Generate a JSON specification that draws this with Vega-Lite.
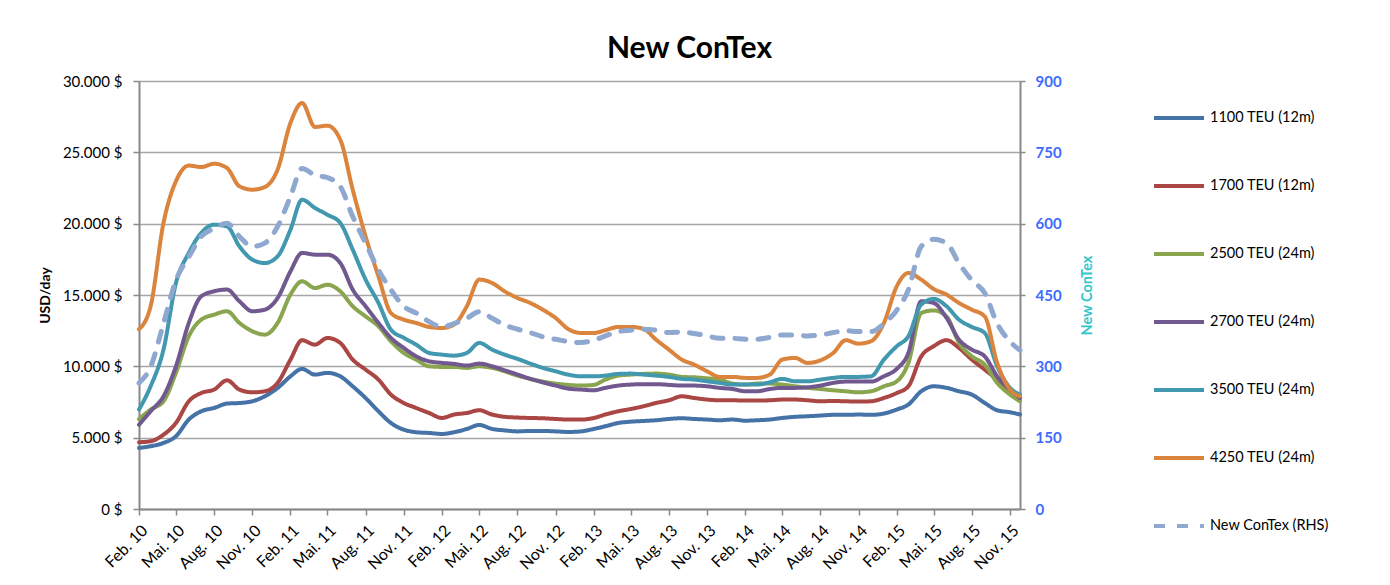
{
"$schema": "https://vega.github.io/schema/vega-lite/v6.json",
"width": 881, "height": 428,
"autosize": {"type": "none"},
"padding": {"left": 139, "top": 81, "right": 370, "bottom": 76},
"background": "white",
"config": {
  "font": "Lato",
  "view": {"stroke": null},
  "axis": {"domainColor": "#888888", "domainWidth": 2, "tickColor": "#888888", "tickWidth": 1.5, "tickSize": 6, "gridColor": "#A6A6A6", "gridWidth": 1.5, "labelFont": "Lato", "labelFontSize": 15, "labelColor": "black", "titleFont": "Lato"},
  "legend": {"symbolType": "stroke", "symbolSize": 2500, "symbolStrokeWidth": 4, "rowPadding": 33, "labelFontSize": 14.5, "labelColor": "black", "labelFont": "Lato", "labelOffset": 4, "labelLimit": 200}
},
"title": {"text": "New ConTex", "fontSize": 30, "fontWeight": "bold", "color": "black", "font": "Lato", "anchor": "middle", "dx": 110, "offset": -14, "baseline": "alphabetic"},
"data": {"values": [
{"d":"2010-02-01","1100 TEU (12m)":4280,"1700 TEU (12m)":4680,"2500 TEU (24m)":6300,"2700 TEU (24m)":5900,"3500 TEU (24m)":6970,"4250 TEU (24m)":12600,"New ConTex (RHS)":265},
{"d":"2010-03-01","1100 TEU (12m)":4400,"1700 TEU (12m)":4750,"2500 TEU (24m)":6970,"2700 TEU (24m)":6850,"3500 TEU (24m)":8600,"4250 TEU (24m)":14210,"New ConTex (RHS)":299},
{"d":"2010-04-01","1100 TEU (12m)":4630,"1700 TEU (12m)":5210,"2500 TEU (24m)":7550,"2700 TEU (24m)":7900,"3500 TEU (24m)":11170,"4250 TEU (24m)":20050,"New ConTex (RHS)":390},
{"d":"2010-05-01","1100 TEU (12m)":5100,"1700 TEU (12m)":6030,"2500 TEU (24m)":9540,"2700 TEU (24m)":10000,"3500 TEU (24m)":15840,"4250 TEU (24m)":22970,"New ConTex (RHS)":481},
{"d":"2010-06-01","1100 TEU (12m)":6270,"1700 TEU (12m)":7550,"2500 TEU (24m)":12110,"2700 TEU (24m)":13040,"3500 TEU (24m)":17950,"4250 TEU (24m)":24070,"New ConTex (RHS)":530},
{"d":"2010-07-01","1100 TEU (12m)":6850,"1700 TEU (12m)":8130,"2500 TEU (24m)":13270,"2700 TEU (24m)":14910,"3500 TEU (24m)":19350,"4250 TEU (24m)":23970,"New ConTex (RHS)":573},
{"d":"2010-08-01","1100 TEU (12m)":7080,"1700 TEU (12m)":8370,"2500 TEU (24m)":13620,"2700 TEU (24m)":15260,"3500 TEU (24m)":19930,"4250 TEU (24m)":24200,"New ConTex (RHS)":590},
{"d":"2010-09-01","1100 TEU (12m)":7390,"1700 TEU (12m)":9020,"2500 TEU (24m)":13860,"2700 TEU (24m)":15380,"3500 TEU (24m)":19810,"4250 TEU (24m)":23900,"New ConTex (RHS)":601},
{"d":"2010-10-01","1100 TEU (12m)":7430,"1700 TEU (12m)":8370,"2500 TEU (24m)":13040,"2700 TEU (24m)":14560,"3500 TEU (24m)":18410,"4250 TEU (24m)":22620,"New ConTex (RHS)":573},
{"d":"2010-11-01","1100 TEU (12m)":7550,"1700 TEU (12m)":8180,"2500 TEU (24m)":12460,"2700 TEU (24m)":13860,"3500 TEU (24m)":17480,"4250 TEU (24m)":22380,"New ConTex (RHS)":552},
{"d":"2010-12-01","1100 TEU (12m)":7900,"1700 TEU (12m)":8250,"2500 TEU (24m)":12220,"2700 TEU (24m)":13970,"3500 TEU (24m)":17240,"4250 TEU (24m)":22570,"New ConTex (RHS)":559},
{"d":"2011-01-01","1100 TEU (12m)":8480,"1700 TEU (12m)":8840,"2500 TEU (24m)":13040,"2700 TEU (24m)":14790,"3500 TEU (24m)":17710,"4250 TEU (24m)":23790,"New ConTex (RHS)":594},
{"d":"2011-02-01","1100 TEU (12m)":9300,"1700 TEU (12m)":10470,"2500 TEU (24m)":15030,"2700 TEU (24m)":16660,"3500 TEU (24m)":19580,"4250 TEU (24m)":27060,"New ConTex (RHS)":657},
{"d":"2011-03-01","1100 TEU (12m)":9820,"1700 TEU (12m)":11830,"2500 TEU (24m)":15960,"2700 TEU (24m)":17950,"3500 TEU (24m)":21680,"4250 TEU (24m)":28460,"New ConTex (RHS)":716},
{"d":"2011-04-01","1100 TEU (12m)":9420,"1700 TEU (12m)":11520,"2500 TEU (24m)":15490,"2700 TEU (24m)":17830,"3500 TEU (24m)":21100,"4250 TEU (24m)":26780,"New ConTex (RHS)":702},
{"d":"2011-05-01","1100 TEU (12m)":9540,"1700 TEU (12m)":11990,"2500 TEU (24m)":15720,"2700 TEU (24m)":17830,"3500 TEU (24m)":20630,"4250 TEU (24m)":26870,"New ConTex (RHS)":697},
{"d":"2011-06-01","1100 TEU (12m)":9300,"1700 TEU (12m)":11640,"2500 TEU (24m)":15260,"2700 TEU (24m)":17240,"3500 TEU (24m)":20050,"4250 TEU (24m)":25890,"New ConTex (RHS)":678},
{"d":"2011-07-01","1100 TEU (12m)":8600,"1700 TEU (12m)":10470,"2500 TEU (24m)":14210,"2700 TEU (24m)":15380,"3500 TEU (24m)":18180,"4250 TEU (24m)":22380,"New ConTex (RHS)":615},
{"d":"2011-08-01","1100 TEU (12m)":7780,"1700 TEU (12m)":9770,"2500 TEU (24m)":13500,"2700 TEU (24m)":14210,"3500 TEU (24m)":16080,"4250 TEU (24m)":19110,"New ConTex (RHS)":559},
{"d":"2011-09-01","1100 TEU (12m)":6850,"1700 TEU (12m)":9070,"2500 TEU (24m)":12810,"2700 TEU (24m)":13040,"3500 TEU (24m)":14450,"4250 TEU (24m)":16310,"New ConTex (RHS)":503},
{"d":"2011-10-01","1100 TEU (12m)":6030,"1700 TEU (12m)":8020,"2500 TEU (24m)":11760,"2700 TEU (24m)":11990,"3500 TEU (24m)":12570,"4250 TEU (24m)":13740,"New ConTex (RHS)":461},
{"d":"2011-11-01","1100 TEU (12m)":5560,"1700 TEU (12m)":7430,"2500 TEU (24m)":10940,"2700 TEU (24m)":11290,"3500 TEU (24m)":12000,"4250 TEU (24m)":13270,"New ConTex (RHS)":426},
{"d":"2011-12-01","1100 TEU (12m)":5380,"1700 TEU (12m)":7080,"2500 TEU (24m)":10470,"2700 TEU (24m)":10700,"3500 TEU (24m)":11520,"4250 TEU (24m)":13040,"New ConTex (RHS)":412},
{"d":"2012-01-01","1100 TEU (12m)":5330,"1700 TEU (12m)":6730,"2500 TEU (24m)":10000,"2700 TEU (24m)":10350,"3500 TEU (24m)":10940,"4250 TEU (24m)":12760,"New ConTex (RHS)":394},
{"d":"2012-02-01","1100 TEU (12m)":5260,"1700 TEU (12m)":6380,"2500 TEU (24m)":9960,"2700 TEU (24m)":10240,"3500 TEU (24m)":10820,"4250 TEU (24m)":12690,"New ConTex (RHS)":383},
{"d":"2012-03-01","1100 TEU (12m)":5380,"1700 TEU (12m)":6620,"2500 TEU (24m)":9960,"2700 TEU (24m)":10170,"3500 TEU (24m)":10750,"4250 TEU (24m)":12920,"New ConTex (RHS)":390},
{"d":"2012-04-01","1100 TEU (12m)":5610,"1700 TEU (12m)":6730,"2500 TEU (24m)":9890,"2700 TEU (24m)":10050,"3500 TEU (24m)":10940,"4250 TEU (24m)":14210,"New ConTex (RHS)":401},
{"d":"2012-05-01","1100 TEU (12m)":5890,"1700 TEU (12m)":6920,"2500 TEU (24m)":10000,"2700 TEU (24m)":10190,"3500 TEU (24m)":11640,"4250 TEU (24m)":16080,"New ConTex (RHS)":415},
{"d":"2012-06-01","1100 TEU (12m)":5610,"1700 TEU (12m)":6620,"2500 TEU (24m)":9890,"2700 TEU (24m)":10000,"3500 TEU (24m)":11170,"4250 TEU (24m)":15840,"New ConTex (RHS)":401},
{"d":"2012-07-01","1100 TEU (12m)":5510,"1700 TEU (12m)":6460,"2500 TEU (24m)":9650,"2700 TEU (24m)":9720,"3500 TEU (24m)":10820,"4250 TEU (24m)":15260,"New ConTex (RHS)":387},
{"d":"2012-08-01","1100 TEU (12m)":5440,"1700 TEU (12m)":6410,"2500 TEU (24m)":9350,"2700 TEU (24m)":9420,"3500 TEU (24m)":10520,"4250 TEU (24m)":14790,"New ConTex (RHS)":378},
{"d":"2012-09-01","1100 TEU (12m)":5470,"1700 TEU (12m)":6380,"2500 TEU (24m)":9120,"2700 TEU (24m)":9120,"3500 TEU (24m)":10190,"4250 TEU (24m)":14440,"New ConTex (RHS)":371},
{"d":"2012-10-01","1100 TEU (12m)":5470,"1700 TEU (12m)":6360,"2500 TEU (24m)":8930,"2700 TEU (24m)":8880,"3500 TEU (24m)":9890,"4250 TEU (24m)":13970,"New ConTex (RHS)":362},
{"d":"2012-11-01","1100 TEU (12m)":5440,"1700 TEU (12m)":6310,"2500 TEU (24m)":8790,"2700 TEU (24m)":8650,"3500 TEU (24m)":9650,"4250 TEU (24m)":13390,"New ConTex (RHS)":357},
{"d":"2012-12-01","1100 TEU (12m)":5400,"1700 TEU (12m)":6270,"2500 TEU (24m)":8700,"2700 TEU (24m)":8440,"3500 TEU (24m)":9420,"4250 TEU (24m)":12620,"New ConTex (RHS)":352},
{"d":"2013-01-01","1100 TEU (12m)":5440,"1700 TEU (12m)":6270,"2500 TEU (24m)":8650,"2700 TEU (24m)":8370,"3500 TEU (24m)":9300,"4250 TEU (24m)":12340,"New ConTex (RHS)":350},
{"d":"2013-02-01","1100 TEU (12m)":5610,"1700 TEU (12m)":6380,"2500 TEU (24m)":8700,"2700 TEU (24m)":8320,"3500 TEU (24m)":9300,"4250 TEU (24m)":12340,"New ConTex (RHS)":355},
{"d":"2013-03-01","1100 TEU (12m)":5800,"1700 TEU (12m)":6620,"2500 TEU (24m)":9070,"2700 TEU (24m)":8490,"3500 TEU (24m)":9350,"4250 TEU (24m)":12530,"New ConTex (RHS)":364},
{"d":"2013-04-01","1100 TEU (12m)":6030,"1700 TEU (12m)":6850,"2500 TEU (24m)":9350,"2700 TEU (24m)":8650,"3500 TEU (24m)":9470,"4250 TEU (24m)":12760,"New ConTex (RHS)":373},
{"d":"2013-05-01","1100 TEU (12m)":6120,"1700 TEU (12m)":7010,"2500 TEU (24m)":9420,"2700 TEU (24m)":8720,"3500 TEU (24m)":9490,"4250 TEU (24m)":12760,"New ConTex (RHS)":376},
{"d":"2013-06-01","1100 TEU (12m)":6170,"1700 TEU (12m)":7200,"2500 TEU (24m)":9470,"2700 TEU (24m)":8750,"3500 TEU (24m)":9420,"4250 TEU (24m)":12620,"New ConTex (RHS)":378},
{"d":"2013-07-01","1100 TEU (12m)":6220,"1700 TEU (12m)":7430,"2500 TEU (24m)":9490,"2700 TEU (24m)":8750,"3500 TEU (24m)":9350,"4250 TEU (24m)":11870,"New ConTex (RHS)":376},
{"d":"2013-08-01","1100 TEU (12m)":6310,"1700 TEU (12m)":7620,"2500 TEU (24m)":9420,"2700 TEU (24m)":8700,"3500 TEU (24m)":9260,"4250 TEU (24m)":11170,"New ConTex (RHS)":371},
{"d":"2013-09-01","1100 TEU (12m)":6360,"1700 TEU (12m)":7900,"2500 TEU (24m)":9260,"2700 TEU (24m)":8650,"3500 TEU (24m)":9120,"4250 TEU (24m)":10470,"New ConTex (RHS)":372},
{"d":"2013-10-01","1100 TEU (12m)":6310,"1700 TEU (12m)":7780,"2500 TEU (24m)":9230,"2700 TEU (24m)":8650,"3500 TEU (24m)":9070,"4250 TEU (24m)":10120,"New ConTex (RHS)":369},
{"d":"2013-11-01","1100 TEU (12m)":6270,"1700 TEU (12m)":7670,"2500 TEU (24m)":9160,"2700 TEU (24m)":8600,"3500 TEU (24m)":8950,"4250 TEU (24m)":9650,"New ConTex (RHS)":364},
{"d":"2013-12-01","1100 TEU (12m)":6220,"1700 TEU (12m)":7620,"2500 TEU (24m)":9070,"2700 TEU (24m)":8490,"3500 TEU (24m)":8840,"4250 TEU (24m)":9260,"New ConTex (RHS)":359},
{"d":"2014-01-01","1100 TEU (12m)":6270,"1700 TEU (12m)":7620,"2500 TEU (24m)":8790,"2700 TEU (24m)":8410,"3500 TEU (24m)":8720,"4250 TEU (24m)":9260,"New ConTex (RHS)":359},
{"d":"2014-02-01","1100 TEU (12m)":6190,"1700 TEU (12m)":7600,"2500 TEU (24m)":8720,"2700 TEU (24m)":8250,"3500 TEU (24m)":8720,"4250 TEU (24m)":9190,"New ConTex (RHS)":357},
{"d":"2014-03-01","1100 TEU (12m)":6220,"1700 TEU (12m)":7600,"2500 TEU (24m)":8790,"2700 TEU (24m)":8250,"3500 TEU (24m)":8720,"4250 TEU (24m)":9190,"New ConTex (RHS)":357},
{"d":"2014-04-01","1100 TEU (12m)":6270,"1700 TEU (12m)":7620,"2500 TEU (24m)":8790,"2700 TEU (24m)":8410,"3500 TEU (24m)":8880,"4250 TEU (24m)":9420,"New ConTex (RHS)":361},
{"d":"2014-05-01","1100 TEU (12m)":6380,"1700 TEU (12m)":7670,"2500 TEU (24m)":8720,"2700 TEU (24m)":8490,"3500 TEU (24m)":9120,"4250 TEU (24m)":10470,"New ConTex (RHS)":366},
{"d":"2014-06-01","1100 TEU (12m)":6460,"1700 TEU (12m)":7670,"2500 TEU (24m)":8600,"2700 TEU (24m)":8490,"3500 TEU (24m)":8950,"4250 TEU (24m)":10590,"New ConTex (RHS)":366},
{"d":"2014-07-01","1100 TEU (12m)":6500,"1700 TEU (12m)":7620,"2500 TEU (24m)":8490,"2700 TEU (24m)":8530,"3500 TEU (24m)":8950,"4250 TEU (24m)":10240,"New ConTex (RHS)":364},
{"d":"2014-08-01","1100 TEU (12m)":6550,"1700 TEU (12m)":7550,"2500 TEU (24m)":8410,"2700 TEU (24m)":8650,"3500 TEU (24m)":9070,"4250 TEU (24m)":10420,"New ConTex (RHS)":366},
{"d":"2014-09-01","1100 TEU (12m)":6600,"1700 TEU (12m)":7570,"2500 TEU (24m)":8320,"2700 TEU (24m)":8840,"3500 TEU (24m)":9190,"4250 TEU (24m)":10940,"New ConTex (RHS)":371},
{"d":"2014-10-01","1100 TEU (12m)":6600,"1700 TEU (12m)":7550,"2500 TEU (24m)":8250,"2700 TEU (24m)":8930,"3500 TEU (24m)":9260,"4250 TEU (24m)":11830,"New ConTex (RHS)":375},
{"d":"2014-11-01","1100 TEU (12m)":6620,"1700 TEU (12m)":7530,"2500 TEU (24m)":8180,"2700 TEU (24m)":8930,"3500 TEU (24m)":9260,"4250 TEU (24m)":11590,"New ConTex (RHS)":373},
{"d":"2014-12-01","1100 TEU (12m)":6600,"1700 TEU (12m)":7550,"2500 TEU (24m)":8250,"2700 TEU (24m)":8930,"3500 TEU (24m)":9300,"4250 TEU (24m)":11760,"New ConTex (RHS)":373},
{"d":"2015-01-01","1100 TEU (12m)":6690,"1700 TEU (12m)":7780,"2500 TEU (24m)":8600,"2700 TEU (24m)":9300,"3500 TEU (24m)":10470,"4250 TEU (24m)":13040,"New ConTex (RHS)":390},
{"d":"2015-02-01","1100 TEU (12m)":6970,"1700 TEU (12m)":8130,"2500 TEU (24m)":8950,"2700 TEU (24m)":9820,"3500 TEU (24m)":11410,"4250 TEU (24m)":15610,"New ConTex (RHS)":418},
{"d":"2015-03-01","1100 TEU (12m)":7320,"1700 TEU (12m)":8600,"2500 TEU (24m)":10240,"2700 TEU (24m)":10940,"3500 TEU (24m)":12110,"4250 TEU (24m)":16540,"New ConTex (RHS)":461},
{"d":"2015-04-01","1100 TEU (12m)":8250,"1700 TEU (12m)":10700,"2500 TEU (24m)":13740,"2700 TEU (24m)":14560,"3500 TEU (24m)":14330,"4250 TEU (24m)":16080,"New ConTex (RHS)":552},
{"d":"2015-05-01","1100 TEU (12m)":8600,"1700 TEU (12m)":11410,"2500 TEU (24m)":13920,"2700 TEU (24m)":14440,"3500 TEU (24m)":14720,"4250 TEU (24m)":15420,"New ConTex (RHS)":567},
{"d":"2015-06-01","1100 TEU (12m)":8490,"1700 TEU (12m)":11830,"2500 TEU (24m)":13500,"2700 TEU (24m)":13390,"3500 TEU (24m)":14210,"4250 TEU (24m)":15030,"New ConTex (RHS)":559},
{"d":"2015-07-01","1100 TEU (12m)":8250,"1700 TEU (12m)":11290,"2500 TEU (24m)":11640,"2700 TEU (24m)":11870,"3500 TEU (24m)":13270,"4250 TEU (24m)":14440,"New ConTex (RHS)":517},
{"d":"2015-08-01","1100 TEU (12m)":8020,"1700 TEU (12m)":10470,"2500 TEU (24m)":10700,"2700 TEU (24m)":11170,"3500 TEU (24m)":12760,"4250 TEU (24m)":13970,"New ConTex (RHS)":481},
{"d":"2015-09-01","1100 TEU (12m)":7430,"1700 TEU (12m)":9770,"2500 TEU (24m)":10120,"2700 TEU (24m)":10700,"3500 TEU (24m)":12340,"4250 TEU (24m)":13500,"New ConTex (RHS)":454},
{"d":"2015-10-01","1100 TEU (12m)":6920,"1700 TEU (12m)":9070,"2500 TEU (24m)":8840,"2700 TEU (24m)":9300,"3500 TEU (24m)":10000,"4250 TEU (24m)":10240,"New ConTex (RHS)":390},
{"d":"2015-11-01","1100 TEU (12m)":6780,"1700 TEU (12m)":8250,"2500 TEU (24m)":8020,"2700 TEU (24m)":8370,"3500 TEU (24m)":8490,"4250 TEU (24m)":8370,"New ConTex (RHS)":352},
{"d":"2015-11-25","1100 TEU (12m)":6620,"1700 TEU (12m)":7780,"2500 TEU (24m)":7550,"2700 TEU (24m)":7780,"3500 TEU (24m)":8020,"4250 TEU (24m)":7900,"New ConTex (RHS)":334}
]},
"encoding": {
  "x": {"field": "d", "type": "temporal",
    "scale": {"type": "utc", "domain": [{"year": 2010, "month": 2, "date": 1, "utc": true}, {"year": 2015, "month": 11, "date": 25, "utc": true}]},
    "axis": {"title": null, "grid": false, "labelAngle": -45, "labelPadding": 7, "labelFontSize": 16, "labelOverlap": false, "labelBound": false,
      "values": [
        {"year": 2010, "month": 2, "date": 1, "utc": true}, {"year": 2010, "month": 5, "date": 1, "utc": true}, {"year": 2010, "month": 8, "date": 1, "utc": true}, {"year": 2010, "month": 11, "date": 1, "utc": true},
        {"year": 2011, "month": 2, "date": 1, "utc": true}, {"year": 2011, "month": 5, "date": 1, "utc": true}, {"year": 2011, "month": 8, "date": 1, "utc": true}, {"year": 2011, "month": 11, "date": 1, "utc": true},
        {"year": 2012, "month": 2, "date": 1, "utc": true}, {"year": 2012, "month": 5, "date": 1, "utc": true}, {"year": 2012, "month": 8, "date": 1, "utc": true}, {"year": 2012, "month": 11, "date": 1, "utc": true},
        {"year": 2013, "month": 2, "date": 1, "utc": true}, {"year": 2013, "month": 5, "date": 1, "utc": true}, {"year": 2013, "month": 8, "date": 1, "utc": true}, {"year": 2013, "month": 11, "date": 1, "utc": true},
        {"year": 2014, "month": 2, "date": 1, "utc": true}, {"year": 2014, "month": 5, "date": 1, "utc": true}, {"year": 2014, "month": 8, "date": 1, "utc": true}, {"year": 2014, "month": 11, "date": 1, "utc": true},
        {"year": 2015, "month": 2, "date": 1, "utc": true}, {"year": 2015, "month": 5, "date": 1, "utc": true}, {"year": 2015, "month": 8, "date": 1, "utc": true}, {"year": 2015, "month": 11, "date": 1, "utc": true}
      ],
      "labelExpr": "['Jan.','Feb.','Mär.','Apr.','Mai.','Jun.','Jul.','Aug.','Sep.','Okt.','Nov.','Dez.'][utcmonth(datum.value)] + ' ' + utcFormat(datum.value, '%y')"}
  }
},
"layer": [
  {
    "transform": [{"fold": ["1100 TEU (12m)", "1700 TEU (12m)", "2500 TEU (24m)", "2700 TEU (24m)", "3500 TEU (24m)", "4250 TEU (24m)"], "as": ["series", "value"]}],
    "mark": {"type": "line", "strokeWidth": 4, "interpolate": "monotone", "strokeJoin": "round", "strokeCap": "round"},
    "encoding": {
      "y": {"field": "value", "type": "quantitative", "scale": {"domain": [0, 30000]},
        "axis": {"orient": "left", "title": "USD/day", "titleFontSize": 14, "titleFontWeight": "bold", "titleColor": "black", "titlePadding": 10, "grid": true, "values": [0, 5000, 10000, 15000, 20000, 25000, 30000], "labelPadding": 11,
          "labelExpr": "replace(format(datum.value, ','), ',', '.') + ' $'"}},
      "color": {"field": "series", "type": "nominal",
        "scale": {"domain": ["1100 TEU (12m)", "1700 TEU (12m)", "2500 TEU (24m)", "2700 TEU (24m)", "3500 TEU (24m)", "4250 TEU (24m)", "New ConTex (RHS)"],
                  "range": ["#4572A7", "#AA4643", "#89A54E", "#71588F", "#4198AF", "#DB843D", "#8FA8D0"]},
        "legend": {"orient": "none", "legendX": 1013, "legendY": 10, "title": null}},
      "strokeDash": {"field": "series", "type": "nominal",
        "scale": {"domain": ["1100 TEU (12m)", "1700 TEU (12m)", "2500 TEU (24m)", "2700 TEU (24m)", "3500 TEU (24m)", "4250 TEU (24m)", "New ConTex (RHS)"],
                  "range": [[1, 0], [1, 0], [1, 0], [1, 0], [1, 0], [1, 0], [11, 12]]},
        "legend": {"orient": "none", "legendX": 1013, "legendY": 10, "title": null}}
    }
  },
  {
    "transform": [{"fold": ["New ConTex (RHS)"], "as": ["series", "value"]}],
    "mark": {"type": "line", "strokeWidth": 5, "interpolate": "monotone", "strokeCap": "round", "strokeJoin": "round"},
    "encoding": {
      "y": {"field": "value", "type": "quantitative", "scale": {"domain": [0, 900]},
        "axis": {"orient": "right", "title": "New ConTex", "titleAngle": -90, "titleFontSize": 14.5, "titleFontWeight": "bold", "titleColor": "#33C6CC", "titlePadding": 33, "grid": false, "values": [0, 150, 300, 450, 600, 750, 900], "labelPadding": 10, "labelColor": "#3D6BFF", "labelFontWeight": "bold", "labelFontSize": 15, "tickSize": 5}},
      "color": {"field": "series", "type": "nominal",
        "scale": {"domain": ["1100 TEU (12m)", "1700 TEU (12m)", "2500 TEU (24m)", "2700 TEU (24m)", "3500 TEU (24m)", "4250 TEU (24m)", "New ConTex (RHS)"],
                  "range": ["#4572A7", "#AA4643", "#89A54E", "#71588F", "#4198AF", "#DB843D", "#8FA8D0"]},
        "legend": {"orient": "none", "legendX": 1013, "legendY": 10, "title": null}},
      "strokeDash": {"field": "series", "type": "nominal",
        "scale": {"domain": ["1100 TEU (12m)", "1700 TEU (12m)", "2500 TEU (24m)", "2700 TEU (24m)", "3500 TEU (24m)", "4250 TEU (24m)", "New ConTex (RHS)"],
                  "range": [[1, 0], [1, 0], [1, 0], [1, 0], [1, 0], [1, 0], [11, 12]]},
        "legend": {"orient": "none", "legendX": 1013, "legendY": 10, "title": null}}
    }
  }
],
"resolve": {"scale": {"y": "independent"}}
}
